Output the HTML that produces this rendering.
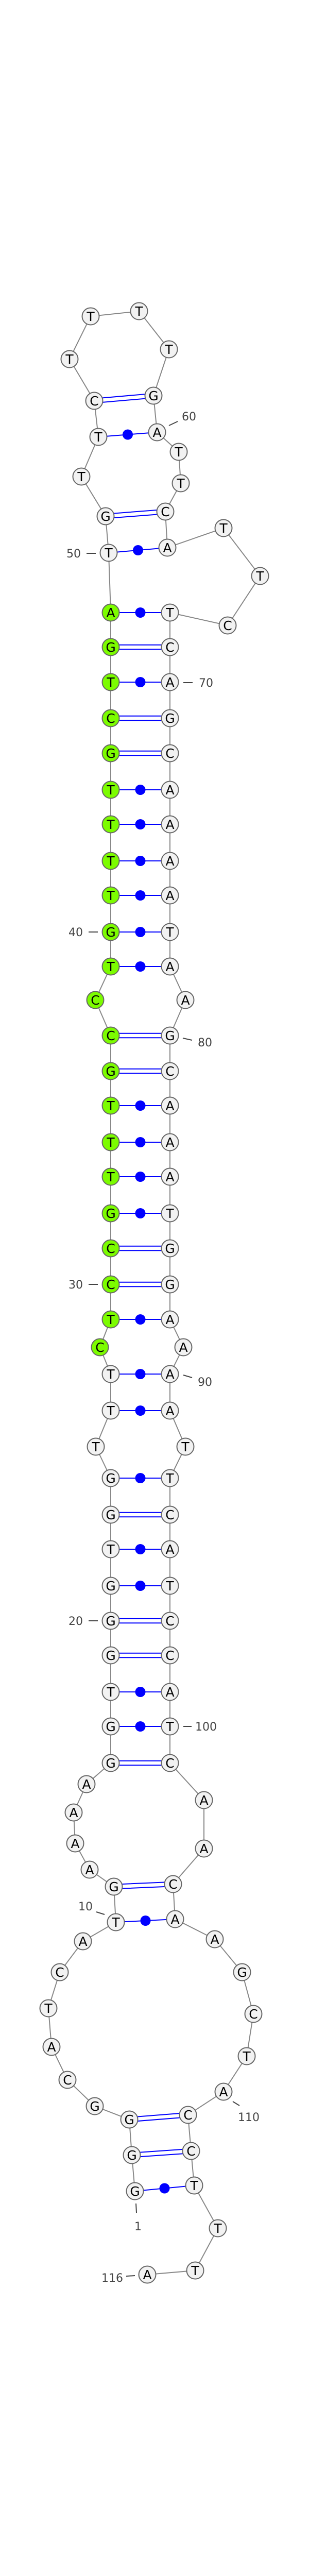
<!DOCTYPE html>
<html><head><meta charset="utf-8"><style>
html,body{margin:0;padding:0;background:#fff;width:600px;height:5038px;overflow:hidden;}
svg{display:block;}
.n circle{fill:#f2f2f2;stroke:#666;stroke-width:2;}
.n.g circle{fill:#7cfc00;}
.n text{font-family:"DejaVu Sans","Liberation Sans",sans-serif;font-size:25px;text-anchor:middle;fill:#000;}
.lb{font-family:"DejaVu Sans","Liberation Sans",sans-serif;font-size:22px;fill:#444;text-anchor:middle;}
</style></head><body>
<svg width="600" height="5038" viewBox="0 0 600 5038" xmlns="http://www.w3.org/2000/svg" style="overflow:hidden">
<polyline fill="none" stroke="#888" stroke-width="2" points="262,4253 256,4183 251,4114 184,4088 131,4037 100,3973 94,3898 116,3828 161,3768 225,3731 221,3662 174,3629 146,3578 143,3518 168,3463 215,3422 215,3351 215,3284 215,3213 215,3146 215,3078 215,3007 215,2940 215,2869 186,2808 215,2738 215,2667 194,2615 215,2561 215,2493 215,2423 215,2355 215,2284 215,2217 215,2146 215,2079 215,2010 185,1941 215,1876 215,1809 215,1738 215,1671 215,1600 215,1533 215,1462 215,1394 215,1324 215,1256 215,1189 211,1073 205,1002 158,925 191,848 183,778 135,697 176,614 270,604 328,678 298,768 305,839 347,877 351,938 321,993 325,1063 434,1025 505,1118 442,1214 330,1189 330,1256 330,1324 330,1394 330,1462 330,1533 330,1600 330,1671 330,1738 330,1809 330,1876 360,1941 330,2010 330,2079 330,2146 330,2217 330,2284 330,2355 330,2423 330,2493 330,2561 356,2615 330,2667 330,2738 360,2808 330,2869 330,2940 330,3007 330,3078 330,3146 330,3213 330,3284 330,3351 330,3422 396,3494 396,3588 336,3657 340,3725 417,3764 470,3828 492,3909 479,3991 434,4060 365,4105 371,4175 377,4242 423,4325 379,4407 286,4415"/>
<g stroke="#0000ff" stroke-width="2" fill="none">
<path d="M183,773.7L298,763.7M183,782.3L298,772.3"/>
<path d="M205,997.7L321,988.7M205,1006.3L321,997.3"/>
<path d="M215,1251.7H330M215,1260.3H330"/>
<path d="M215,1389.7H330M215,1398.3H330"/>
<path d="M215,1457.7H330M215,1466.3H330"/>
<path d="M215,2005.7H330M215,2014.3H330"/>
<path d="M215,2074.7H330M215,2083.3H330"/>
<path d="M215,2418.7H330M215,2427.3H330"/>
<path d="M215,2488.7H330M215,2497.3H330"/>
<path d="M215,2935.7H330M215,2944.3H330"/>
<path d="M215,3141.7H330M215,3150.3H330"/>
<path d="M215,3208.7H330M215,3217.3H330"/>
<path d="M215,3417.7H330M215,3426.3H330"/>
<path d="M221,3657.7L336,3652.7M221,3666.3L336,3661.3"/>
<path d="M251,4109.7L365,4100.7M251,4118.3L365,4109.3"/>
<path d="M256,4178.7L371,4170.7M256,4187.3L371,4179.3"/>
<path d="M191,848L305,839M211,1073L325,1063M215,1189H330M215,1324H330M215,1533H330M215,1600H330M215,1671H330M215,1738H330M215,1809H330M215,1876H330M215,2146H330M215,2217H330M215,2284H330M215,2355H330M215,2561H330M215,2667H330M215,2738H330M215,2869H330M215,3007H330M215,3078H330M215,3284H330M215,3351H330M225,3731L340,3725M262,4253L377,4242"/>
</g>
<g fill="#0000ff">
<circle cx="248" cy="843.5" r="10"/><circle cx="268" cy="1068" r="10"/>
<circle cx="272.5" cy="1189" r="10"/><circle cx="272.5" cy="1324" r="10"/><circle cx="272.5" cy="1533" r="10"/><circle cx="272.5" cy="1600" r="10"/><circle cx="272.5" cy="1671" r="10"/><circle cx="272.5" cy="1738" r="10"/><circle cx="272.5" cy="1809" r="10"/><circle cx="272.5" cy="1876" r="10"/>
<circle cx="272.5" cy="2146" r="10"/><circle cx="272.5" cy="2217" r="10"/><circle cx="272.5" cy="2284" r="10"/><circle cx="272.5" cy="2355" r="10"/><circle cx="272.5" cy="2561" r="10"/><circle cx="272.5" cy="2667" r="10"/><circle cx="272.5" cy="2738" r="10"/>
<circle cx="272.5" cy="2869" r="10"/><circle cx="272.5" cy="3007" r="10"/><circle cx="272.5" cy="3078" r="10"/><circle cx="272.5" cy="3284" r="10"/><circle cx="272.5" cy="3351" r="10"/>
<circle cx="282.5" cy="3728" r="10"/><circle cx="319.5" cy="4247.5" r="10"/>
</g>
<g stroke="#444" stroke-width="2">
<path d="M328,826L345,818M168,1074H186M356,1325H374M172,1809H190M355,2015L373,2019M172,2493H190M356,2669L373,2674M172,3146H190M356,3351H372M187,3711L203,3716M452,4079L465,4087M264,4277L265,4295M245,4418L262,4417"/>
</g>
<g class="lb">
<text x="367" y="816">60</text>
<text x="143" y="1082">50</text>
<text x="400" y="1333">70</text>
<text x="147" y="1817">40</text>
<text x="398" y="2031">80</text>
<text x="147" y="2501">30</text>
<text x="398" y="2690">90</text>
<text x="147" y="3154">20</text>
<text x="400" y="3359">100</text>
<text x="166" y="3708">10</text>
<text x="483" y="4117">110</text>
<text x="268" y="4329">1</text>
<text x="218" y="4429">116</text>
</g>
<g>
<g class="n"><circle cx="262" cy="4253" r="16.5"/><text x="262" y="4262">G</text></g>
<g class="n"><circle cx="256" cy="4183" r="16.5"/><text x="256" y="4192">G</text></g>
<g class="n"><circle cx="251" cy="4114" r="16.5"/><text x="251" y="4123">G</text></g>
<g class="n"><circle cx="184" cy="4088" r="16.5"/><text x="184" y="4097">G</text></g>
<g class="n"><circle cx="131" cy="4037" r="16.5"/><text x="131" y="4046">C</text></g>
<g class="n"><circle cx="100" cy="3973" r="16.5"/><text x="100" y="3982">A</text></g>
<g class="n"><circle cx="94" cy="3898" r="16.5"/><text x="94" y="3907">T</text></g>
<g class="n"><circle cx="116" cy="3828" r="16.5"/><text x="116" y="3837">C</text></g>
<g class="n"><circle cx="161" cy="3768" r="16.5"/><text x="161" y="3777">A</text></g>
<g class="n"><circle cx="225" cy="3731" r="16.5"/><text x="225" y="3740">T</text></g>
<g class="n"><circle cx="221" cy="3662" r="16.5"/><text x="221" y="3671">G</text></g>
<g class="n"><circle cx="174" cy="3629" r="16.5"/><text x="174" y="3638">A</text></g>
<g class="n"><circle cx="146" cy="3578" r="16.5"/><text x="146" y="3587">A</text></g>
<g class="n"><circle cx="143" cy="3518" r="16.5"/><text x="143" y="3527">A</text></g>
<g class="n"><circle cx="168" cy="3463" r="16.5"/><text x="168" y="3472">A</text></g>
<g class="n"><circle cx="215" cy="3422" r="16.5"/><text x="215" y="3431">G</text></g>
<g class="n"><circle cx="215" cy="3351" r="16.5"/><text x="215" y="3360">G</text></g>
<g class="n"><circle cx="215" cy="3284" r="16.5"/><text x="215" y="3293">T</text></g>
<g class="n"><circle cx="215" cy="3213" r="16.5"/><text x="215" y="3222">G</text></g>
<g class="n"><circle cx="215" cy="3146" r="16.5"/><text x="215" y="3155">G</text></g>
<g class="n"><circle cx="215" cy="3078" r="16.5"/><text x="215" y="3087">G</text></g>
<g class="n"><circle cx="215" cy="3007" r="16.5"/><text x="215" y="3016">T</text></g>
<g class="n"><circle cx="215" cy="2940" r="16.5"/><text x="215" y="2949">G</text></g>
<g class="n"><circle cx="215" cy="2869" r="16.5"/><text x="215" y="2878">G</text></g>
<g class="n"><circle cx="186" cy="2808" r="16.5"/><text x="186" y="2817">T</text></g>
<g class="n"><circle cx="215" cy="2738" r="16.5"/><text x="215" y="2747">T</text></g>
<g class="n"><circle cx="215" cy="2667" r="16.5"/><text x="215" y="2676">T</text></g>
<g class="n g"><circle cx="194" cy="2615" r="16.5"/><text x="194" y="2624">C</text></g>
<g class="n g"><circle cx="215" cy="2561" r="16.5"/><text x="215" y="2570">T</text></g>
<g class="n g"><circle cx="215" cy="2493" r="16.5"/><text x="215" y="2502">C</text></g>
<g class="n g"><circle cx="215" cy="2423" r="16.5"/><text x="215" y="2432">C</text></g>
<g class="n g"><circle cx="215" cy="2355" r="16.5"/><text x="215" y="2364">G</text></g>
<g class="n g"><circle cx="215" cy="2284" r="16.5"/><text x="215" y="2293">T</text></g>
<g class="n g"><circle cx="215" cy="2217" r="16.5"/><text x="215" y="2226">T</text></g>
<g class="n g"><circle cx="215" cy="2146" r="16.5"/><text x="215" y="2155">T</text></g>
<g class="n g"><circle cx="215" cy="2079" r="16.5"/><text x="215" y="2088">G</text></g>
<g class="n g"><circle cx="215" cy="2010" r="16.5"/><text x="215" y="2019">C</text></g>
<g class="n g"><circle cx="185" cy="1941" r="16.5"/><text x="185" y="1950">C</text></g>
<g class="n g"><circle cx="215" cy="1876" r="16.5"/><text x="215" y="1885">T</text></g>
<g class="n g"><circle cx="215" cy="1809" r="16.5"/><text x="215" y="1818">G</text></g>
<g class="n g"><circle cx="215" cy="1738" r="16.5"/><text x="215" y="1747">T</text></g>
<g class="n g"><circle cx="215" cy="1671" r="16.5"/><text x="215" y="1680">T</text></g>
<g class="n g"><circle cx="215" cy="1600" r="16.5"/><text x="215" y="1609">T</text></g>
<g class="n g"><circle cx="215" cy="1533" r="16.5"/><text x="215" y="1542">T</text></g>
<g class="n g"><circle cx="215" cy="1462" r="16.5"/><text x="215" y="1471">G</text></g>
<g class="n g"><circle cx="215" cy="1394" r="16.5"/><text x="215" y="1403">C</text></g>
<g class="n g"><circle cx="215" cy="1324" r="16.5"/><text x="215" y="1333">T</text></g>
<g class="n g"><circle cx="215" cy="1256" r="16.5"/><text x="215" y="1265">G</text></g>
<g class="n g"><circle cx="215" cy="1189" r="16.5"/><text x="215" y="1198">A</text></g>
<g class="n"><circle cx="211" cy="1073" r="16.5"/><text x="211" y="1082">T</text></g>
<g class="n"><circle cx="205" cy="1002" r="16.5"/><text x="205" y="1011">G</text></g>
<g class="n"><circle cx="158" cy="925" r="16.5"/><text x="158" y="934">T</text></g>
<g class="n"><circle cx="191" cy="848" r="16.5"/><text x="191" y="857">T</text></g>
<g class="n"><circle cx="183" cy="778" r="16.5"/><text x="183" y="787">C</text></g>
<g class="n"><circle cx="135" cy="697" r="16.5"/><text x="135" y="706">T</text></g>
<g class="n"><circle cx="176" cy="614" r="16.5"/><text x="176" y="623">T</text></g>
<g class="n"><circle cx="270" cy="604" r="16.5"/><text x="270" y="613">T</text></g>
<g class="n"><circle cx="328" cy="678" r="16.5"/><text x="328" y="687">T</text></g>
<g class="n"><circle cx="298" cy="768" r="16.5"/><text x="298" y="777">G</text></g>
<g class="n"><circle cx="305" cy="839" r="16.5"/><text x="305" y="848">A</text></g>
<g class="n"><circle cx="347" cy="877" r="16.5"/><text x="347" y="886">T</text></g>
<g class="n"><circle cx="351" cy="938" r="16.5"/><text x="351" y="947">T</text></g>
<g class="n"><circle cx="321" cy="993" r="16.5"/><text x="321" y="1002">C</text></g>
<g class="n"><circle cx="325" cy="1063" r="16.5"/><text x="325" y="1072">A</text></g>
<g class="n"><circle cx="434" cy="1025" r="16.5"/><text x="434" y="1034">T</text></g>
<g class="n"><circle cx="505" cy="1118" r="16.5"/><text x="505" y="1127">T</text></g>
<g class="n"><circle cx="442" cy="1214" r="16.5"/><text x="442" y="1223">C</text></g>
<g class="n"><circle cx="330" cy="1189" r="16.5"/><text x="330" y="1198">T</text></g>
<g class="n"><circle cx="330" cy="1256" r="16.5"/><text x="330" y="1265">C</text></g>
<g class="n"><circle cx="330" cy="1324" r="16.5"/><text x="330" y="1333">A</text></g>
<g class="n"><circle cx="330" cy="1394" r="16.5"/><text x="330" y="1403">G</text></g>
<g class="n"><circle cx="330" cy="1462" r="16.5"/><text x="330" y="1471">C</text></g>
<g class="n"><circle cx="330" cy="1533" r="16.5"/><text x="330" y="1542">A</text></g>
<g class="n"><circle cx="330" cy="1600" r="16.5"/><text x="330" y="1609">A</text></g>
<g class="n"><circle cx="330" cy="1671" r="16.5"/><text x="330" y="1680">A</text></g>
<g class="n"><circle cx="330" cy="1738" r="16.5"/><text x="330" y="1747">A</text></g>
<g class="n"><circle cx="330" cy="1809" r="16.5"/><text x="330" y="1818">T</text></g>
<g class="n"><circle cx="330" cy="1876" r="16.5"/><text x="330" y="1885">A</text></g>
<g class="n"><circle cx="360" cy="1941" r="16.5"/><text x="360" y="1950">A</text></g>
<g class="n"><circle cx="330" cy="2010" r="16.5"/><text x="330" y="2019">G</text></g>
<g class="n"><circle cx="330" cy="2079" r="16.5"/><text x="330" y="2088">C</text></g>
<g class="n"><circle cx="330" cy="2146" r="16.5"/><text x="330" y="2155">A</text></g>
<g class="n"><circle cx="330" cy="2217" r="16.5"/><text x="330" y="2226">A</text></g>
<g class="n"><circle cx="330" cy="2284" r="16.5"/><text x="330" y="2293">A</text></g>
<g class="n"><circle cx="330" cy="2355" r="16.5"/><text x="330" y="2364">T</text></g>
<g class="n"><circle cx="330" cy="2423" r="16.5"/><text x="330" y="2432">G</text></g>
<g class="n"><circle cx="330" cy="2493" r="16.5"/><text x="330" y="2502">G</text></g>
<g class="n"><circle cx="330" cy="2561" r="16.5"/><text x="330" y="2570">A</text></g>
<g class="n"><circle cx="356" cy="2615" r="16.5"/><text x="356" y="2624">A</text></g>
<g class="n"><circle cx="330" cy="2667" r="16.5"/><text x="330" y="2676">A</text></g>
<g class="n"><circle cx="330" cy="2738" r="16.5"/><text x="330" y="2747">A</text></g>
<g class="n"><circle cx="360" cy="2808" r="16.5"/><text x="360" y="2817">T</text></g>
<g class="n"><circle cx="330" cy="2869" r="16.5"/><text x="330" y="2878">T</text></g>
<g class="n"><circle cx="330" cy="2940" r="16.5"/><text x="330" y="2949">C</text></g>
<g class="n"><circle cx="330" cy="3007" r="16.5"/><text x="330" y="3016">A</text></g>
<g class="n"><circle cx="330" cy="3078" r="16.5"/><text x="330" y="3087">T</text></g>
<g class="n"><circle cx="330" cy="3146" r="16.5"/><text x="330" y="3155">C</text></g>
<g class="n"><circle cx="330" cy="3213" r="16.5"/><text x="330" y="3222">C</text></g>
<g class="n"><circle cx="330" cy="3284" r="16.5"/><text x="330" y="3293">A</text></g>
<g class="n"><circle cx="330" cy="3351" r="16.5"/><text x="330" y="3360">T</text></g>
<g class="n"><circle cx="330" cy="3422" r="16.5"/><text x="330" y="3431">C</text></g>
<g class="n"><circle cx="396" cy="3494" r="16.5"/><text x="396" y="3503">A</text></g>
<g class="n"><circle cx="396" cy="3588" r="16.5"/><text x="396" y="3597">A</text></g>
<g class="n"><circle cx="336" cy="3657" r="16.5"/><text x="336" y="3666">C</text></g>
<g class="n"><circle cx="340" cy="3725" r="16.5"/><text x="340" y="3734">A</text></g>
<g class="n"><circle cx="417" cy="3764" r="16.5"/><text x="417" y="3773">A</text></g>
<g class="n"><circle cx="470" cy="3828" r="16.5"/><text x="470" y="3837">G</text></g>
<g class="n"><circle cx="492" cy="3909" r="16.5"/><text x="492" y="3918">C</text></g>
<g class="n"><circle cx="479" cy="3991" r="16.5"/><text x="479" y="4000">T</text></g>
<g class="n"><circle cx="434" cy="4060" r="16.5"/><text x="434" y="4069">A</text></g>
<g class="n"><circle cx="365" cy="4105" r="16.5"/><text x="365" y="4114">C</text></g>
<g class="n"><circle cx="371" cy="4175" r="16.5"/><text x="371" y="4184">C</text></g>
<g class="n"><circle cx="377" cy="4242" r="16.5"/><text x="377" y="4251">T</text></g>
<g class="n"><circle cx="423" cy="4325" r="16.5"/><text x="423" y="4334">T</text></g>
<g class="n"><circle cx="379" cy="4407" r="16.5"/><text x="379" y="4416">T</text></g>
<g class="n"><circle cx="286" cy="4415" r="16.5"/><text x="286" y="4424">A</text></g>
</g>
<text x="300" y="5026" font-family="DejaVu Sans, Liberation Sans, sans-serif" font-size="10" font-weight="bold" text-anchor="middle" fill="#000">eca-mir-1468_annot [-40.5]</text>
</svg>
</body></html>
